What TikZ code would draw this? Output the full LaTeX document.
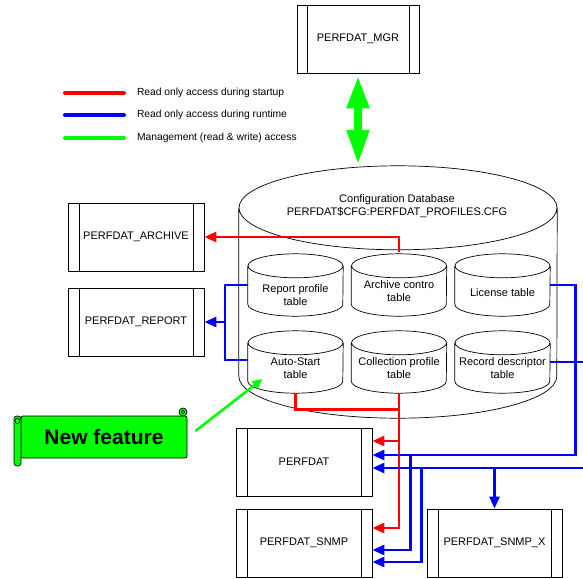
\documentclass[tikz,border=0pt]{standalone}
\usepackage{fontspec}
\setmainfont{Liberation Sans}
\usetikzlibrary{arrows.meta}
\definecolor{rdline}{RGB}{255,0,0}
\definecolor{blline}{RGB}{0,0,255}
\definecolor{gnline}{RGB}{0,255,0}
\begin{document}
\begin{tikzpicture}[x=1pt, y=-1pt, line join=miter,
  prog/.style={draw, line width=.8pt, minimum width=136pt, minimum height=68pt, inner sep=0pt,
    font=\fontsize{11}{13}\selectfont,
    path picture={\draw[line width=.8pt] ([xshift=11pt]path picture bounding box.north west) -- ([xshift=11pt]path picture bounding box.south west)
      ([xshift=-11pt]path picture bounding box.north east) -- ([xshift=-11pt]path picture bounding box.south east);}},
  tbl/.style={minimum width=95pt, minimum height=62pt, inner sep=0pt},
  tbltxt/.style={align=center, inner sep=0pt, font=\fontsize{11}{13}\selectfont},
  tip/.style={-{Triangle[length=12pt,width=10pt]}},
  rd/.style={rdline, line width=2.6pt},
  bl/.style={blline, line width=2.6pt},
  legend/.style={anchor=west, inner sep=0pt, text=black, font=\fontsize{10.3}{12}\selectfont}]
\useasboundingbox (0,0) rectangle (583,578);
\clip (0,0) rectangle (583,578);

% legend
\draw[rd, line width=4pt, line cap=round] (65,93) -- (124,93) node[legend] (lg1) at (135,93) {Read only access during startup};
\draw[bl, line width=4pt, line cap=round] (65,115) -- (124,115) node[legend] (lg2) at (135,115) {Read only access during runtime};
\draw[gnline, line width=4pt, line cap=round] (65,138) -- (124,138) node[legend] (lg3) at (135,138) {Management (read \& write) access};

% database
\node[minimum width=318pt, minimum height=252pt, inner sep=0pt] (db) at (398,292) {};
\draw[line width=.7pt] ([yshift=-42pt]db.north) ellipse[x radius=159pt, y radius=42pt]
  ([yshift=-42pt]db.north west) -- ([yshift=42pt]db.south west)
  arc[start angle=180, end angle=360, x radius=159pt, y radius=42pt] -- ([yshift=-42pt]db.north east);
\node[tbltxt] (dbtxt) at (397,206) {Configuration Database\\PERFDAT\$CFG:PERFDAT\_PROFILES.CFG};

\node[tbl] (rp) at (295.5,285) {};
\node[tbl] (ac) at (399,285) {};
\node[tbl] (lt) at (502.5,285) {};
\node[tbl] (as) at (295.5,362) {};
\node[tbl] (cp) at (399,362) {};
\node[tbl] (rdt) at (502.5,362) {};
\foreach \n in {rp,ac,lt,as,cp,rdt}
  \draw[line width=.7pt] ([yshift=-12pt]\n.north) ellipse[x radius=47.5pt, y radius=12pt]
    ([yshift=-12pt]\n.north west) -- ([yshift=12pt]\n.south west)
    arc[start angle=180, end angle=360, x radius=47.5pt, y radius=12pt] -- ([yshift=-12pt]\n.north east);
\node[tbltxt] (rp-t) at ([yshift=-10pt]rp.center) {Report profile\\table};
\node[tbltxt] (ac-t) at ([yshift=-6pt]ac.center) {Archive contro\\table};
\node[tbltxt] (lt-t) at ([yshift=-8pt]lt.center) {License table};
\node[tbltxt] (as-t) at ([yshift=-6pt]as.center) {Auto-Start\\table};
\node[tbltxt] (cp-t) at ([yshift=-6pt]cp.center) {Collection profile\\table};
\node[tbltxt] (rdt-t) at ([yshift=-6pt]rdt.center) {Record descriptor\\table};

% processes
\node[prog, minimum width=122pt, path picture={\draw[line width=.8pt] ([xshift=10pt]path picture bounding box.north west) -- ([xshift=10pt]path picture bounding box.south west)
      ([xshift=-10pt]path picture bounding box.north east) -- ([xshift=-10pt]path picture bounding box.south east);}] (mgr) at (358,39) {PERFDAT\_MGR};
\node[prog] (archive) at (136,237) {PERFDAT\_ARCHIVE};
\node[prog] (report) at (136,322) {PERFDAT\_REPORT};
\node[prog] (perfdat) at (304,462) {PERFDAT};
\node[prog] (snmp) at (304,543) {PERFDAT\_SNMP};
\node[prog, minimum width=135pt] (snmpx) at (494.5,543) {PERFDAT\_SNMP\_X};

% management access
\draw[gnline, line width=8pt, {Triangle[length=33pt,width=21pt]}-{Triangle[length=35pt,width=21pt]}] ([yshift=-2pt]mgr.south) -- ([yshift=1pt]mgr.south |- db.north);

% startup access
\draw[rd, tip] ([yshift=2pt]ac.north) |- (archive.east);
\draw[rd] (as.south) -- ++(0,16) -| (cp.south);
\draw[rd, tip] (cp.south) |- ([yshift=21pt]perfdat.east);
\draw[rd, tip] (cp.south) |- ([yshift=15pt]snmp.east);

% runtime access
\draw[bl] (rp.west) -- ++(-23,0) coordinate (j1) |- ([yshift=2pt]as.west);
\draw[bl, tip] (j1 |- report.east) -- (report.east);
\coordinate (b1) at ([yshift=7pt]perfdat.east);
\coordinate (b2) at ([yshift=-6pt]perfdat.east);
\draw[bl, tip] (lt.east) -- ++(25,0) |- (b1);
\draw[bl, tip] ([xshift=38pt]b1) |- ([yshift=-7pt]snmp.east);
\draw[bl] (rdt.east) -- ++(45,0);
\draw[bl, tip] ([xshift=225pt]b2) -- (b2);
\draw[bl, tip] ([xshift=49pt]b2) |- ([yshift=-19pt]snmp.east);
\draw[bl, tip] (snmpx.north |- b2) -- (snmpx.north);

% new feature scroll
\node[draw, fill=gnline, line width=.7pt, rounded corners=2pt, minimum width=166pt, minimum height=42pt, inner sep=0pt,
  font=\fontsize{21}{24}\selectfont\bfseries] (nf) at (104,437) {New feature};
\draw[fill=gnline, line width=.7pt, rounded corners=3pt] (14,416) rectangle (21,466);
\draw[line width=.6pt] (17.5,421) circle (2.5pt);
\draw[fill=gnline, line width=.7pt] (183,412) circle (4pt);
\draw[line width=.6pt] (183,412) circle (1.8pt);
\draw[gnline, line width=2.6pt, -{Triangle[length=10pt,width=9pt]}] ([xshift=8pt,yshift=6pt]nf.east) -- ([xshift=-33pt,yshift=-17pt]as.center);
\end{tikzpicture}
\end{document}
